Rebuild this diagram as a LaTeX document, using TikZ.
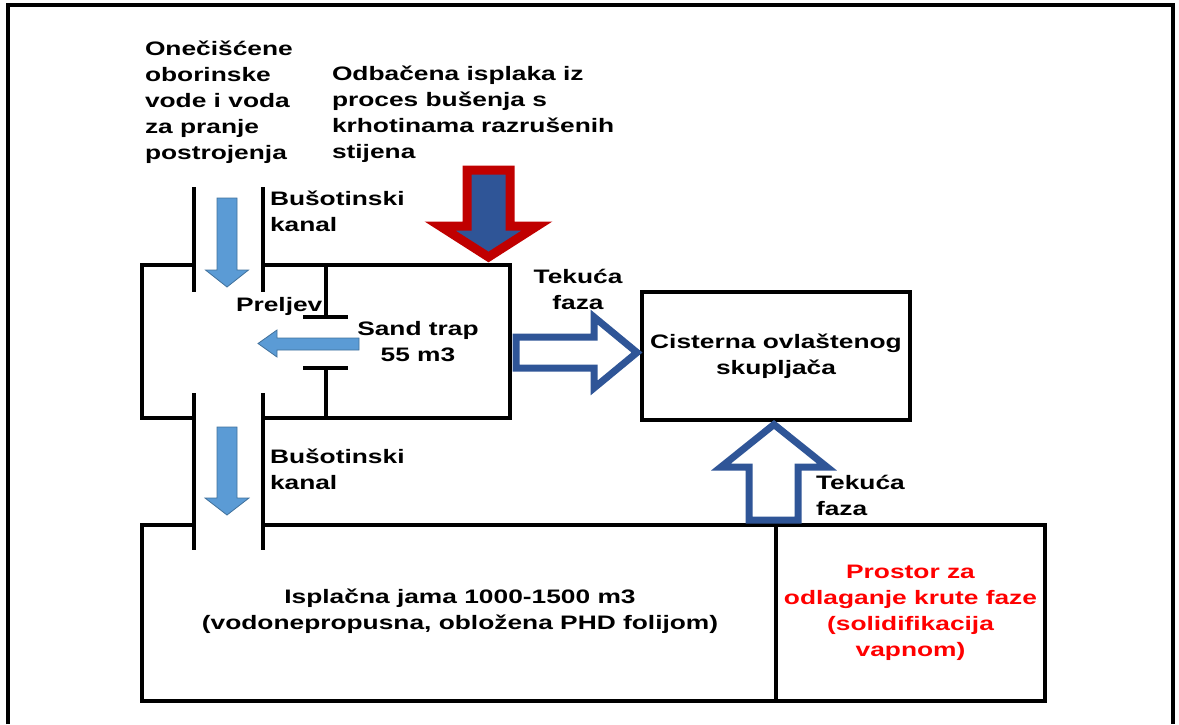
\documentclass[tikz,border=0pt]{standalone}
\usepackage{fontspec}
\setmainfont{Liberation Sans}[FakeStretch=1.35]
\usetikzlibrary{positioning}
\definecolor{flowblue}{HTML}{2F5597}
\definecolor{lightblue}{HTML}{5B9BD5}
\definecolor{lightedge}{HTML}{41719C}
\definecolor{darkred}{HTML}{C00000}

\begin{document}
\begin{tikzpicture}[
        x = 1pt,
        y = -1pt,
        txt/.style = {
            font = \fontsize{19.5}{26}\selectfont\bfseries,
            inner sep = 0pt,
            outer sep = 0pt
        },
        wall/.style = {line width = 3.5pt},
        box/.style = {
            draw,
            line width = 3.5pt,
            inner sep = 0pt,
            outer sep = 0pt
        },
        smallarrow/.style = {fill=lightblue, draw=lightedge, line width = 0.8pt},
        bigarrow/.style = {fill=white, draw=flowblue, line width = 7pt, miter limit = 10}
    ]
    \useasboundingbox (0,0) rectangle (1179,724);
    \draw[line width = 3.5pt] (8,724) -- (8,5) -- (1173,5) -- (1173,724);

    % sand trap and overflow
    \draw[wall] (194,265) -- (142,265) -- (142,418) -- (194,418);
    \draw[wall] (263,265) -- (510,265) -- (510,418) -- (263,418);
    \draw[wall] (326,265) -- (326,317) (303,317) -- (348,317);
    \draw[wall] (326,418) -- (326,368) (303,368) -- (348,368);

    % bore channel
    \draw[wall] (194,187) -- (194,292);
    \draw[wall] (263,187) -- (263,292);
    \draw[wall] (194,393) -- (194,550);
    \draw[wall] (263,393) -- (263,550);

    % pit
    \draw[wall] (194,525) -- (142,525) -- (142,701) -- (776,701);
    \draw[wall] (263,525) -- (776,525);
    \node[box, txt, text=red, align=center, minimum width=269, minimum height=176, anchor=north west] (prostor) at (776,525) {Prostor za\\odlaganje krute faze\\(solidifikacija\\vapnom)};
    \node[box, txt, align=center, minimum width=268, minimum height=128] (cist) at (776,356) {Cisterna ovlaštenog\\skupljača};

    \node[txt, align=left, anchor=west] (voda) at (145,102) {Onečišćene\\oborinske\\vode i voda\\za pranje\\postrojenja};
    \node[txt, align=left, anchor=west] (isplaka) at (332,114) {Odbačena isplaka iz\\proces bušenja s\\krhotinama razrušenih\\stijena};
    \node[txt, align=left, anchor=west] (kanal1) at (270,211) {Bušotinski\\kanal};
    \node[txt, anchor=base west] (preljev) at (236,311) {Preljev};
    \node[txt, align=center] (trap) at (418,342) {Sand trap\\55 m3};
    \node[txt, align=center] (faza1) at (578,289) {Tekuća\\faza};
    \node[txt, align=left, anchor=west] (kanal2) at (270,469) {Bušotinski\\kanal};
    \node[txt, align=left, anchor=west] (faza2) at (816,495) {Tekuća\\faza};
    \node[txt, align=center] (jama) at (460,611) {Isplačna jama 1000-1500 m3\\(vodonepropusna, obložena PHD folijom)};

    % flow arrows
    \draw[smallarrow] (217,198) -- (237,198) -- (237,270) -- (248.5,270) -- (227,287) -- (205.5,270) -- (217,270) -- cycle;
    \draw[smallarrow] (217,427) -- (237,427) -- (237,498) -- (249,498) -- (227,515) -- (205,498) -- (217,498) -- cycle;
    \draw[smallarrow] (359,338) -- (277,338) -- (277,330) -- (258,343.5) -- (277,357) -- (277,350) -- (359,350) -- cycle;
    \draw[fill=flowblue, draw=darkred, line width = 9pt, miter limit = 10] (467,170) -- (510,170) -- (510,226) -- (537,226) -- (488.5,257) -- (440,226) -- (467,226) -- cycle;
    \draw[bigarrow] (516,337) -- (594,337) -- (594,317) -- (637,352.5) -- (594,388) -- (594,368) -- (516,368) -- cycle;
    \draw[bigarrow] (749,520) -- (749,467) -- (721,467) -- (774,424.5) -- (827,467) -- (798,467) -- (798,520) -- cycle;
\end{tikzpicture}
\end{document}
